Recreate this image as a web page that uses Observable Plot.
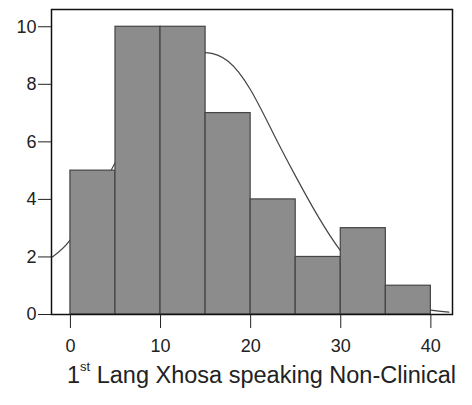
<!DOCTYPE html>
<html><head><meta charset="utf-8">
<script src="https://cdn.jsdelivr.net/npm/d3@7"></script>
<script src="https://cdn.jsdelivr.net/npm/@observablehq/plot@0.6"></script>
<style>
body{margin:0;background:#fff;font-family:"Liberation Sans",Arial,sans-serif}
#wrap{position:relative;width:472px;height:405px}
#cap{position:absolute;left:67px;top:361px;font-size:23.5px;color:#222;white-space:nowrap;line-height:1.2}
#cap sup{font-size:13px;vertical-align:top;position:relative;top:-2px}
</style></head><body>
<div id="wrap"><div id="chart"></div><div id="cap">1<sup>st</sup> Lang Xhosa speaking Non-Clinical</div></div>
<script>
const binStarts = [0, 5, 10, 15, 20, 25, 30, 35];
const binWidth = 5;
const counts = [5, 10, 10, 7, 4, 2, 3, 1];
const curveX = [-2, 0, 2.5, 5, 7.5, 10, 12.5, 15, 17.5, 20, 22.5, 25, 27.5, 30, 32.5, 35, 37.5, 40, 42];
const curveY = [2.0, 2.6, 3.9, 5.3, 6.9, 8.1, 8.9, 9.1, 8.8, 7.8, 6.3, 4.8, 3.4, 2.2, 1.3, 0.7, 0.35, 0.15, 0.08];
const xTicks = [0, 10, 20, 30, 40];
const yTicks = [0, 2, 4, 6, 8, 10];

const bars = binStarts.map((s, i) => ({x1: s, x2: s + binWidth, y: counts[i]}));
const curve = curveX.map((x, i) => ({x, y: curveY[i]}));

const chart = Plot.plot({
  width: 472,
  height: 360,
  marginLeft: 51,
  marginRight: 20,
  marginTop: 9,
  marginBottom: 46,
  style: {fontFamily: '"Liberation Sans", Arial, sans-serif', fontSize: "18px", color: "#222", background: "#fff"},
  x: {domain: [-2.1, 42.4]},
  y: {domain: [0, 10.6]},
  marks: [
    Plot.line(curve, {x: "x", y: "y", curve: "natural", stroke: "#444", strokeWidth: 1.2, clip: true}),
    Plot.rectY(bars, {x1: "x1", x2: "x2", y: "y", fill: "#8c8c8c", stroke: "#444", strokeWidth: 1.2, inset: 0}),
    Plot.frame({stroke: "#111", strokeWidth: 1.5}),
    Plot.axisX({ticks: xTicks, tickSize: 14, tickPadding: 11, label: null, tickFormat: d => d}),
    Plot.axisY({ticks: yTicks, tickSize: 13, tickPadding: 2, label: null, tickFormat: d => d})
  ]
});
document.getElementById("chart").appendChild(chart);
</script>
</body></html>
